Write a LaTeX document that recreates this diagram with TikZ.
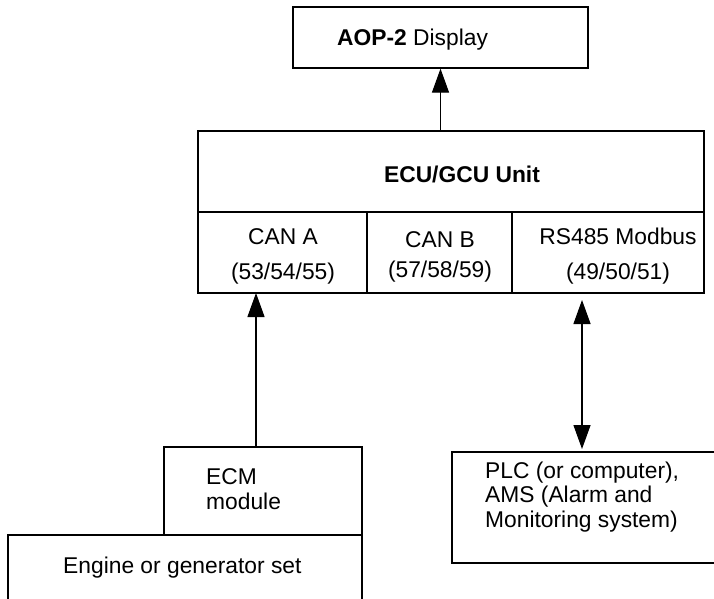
\documentclass[tikz,border=0pt]{standalone}
\usepackage{fontspec}
\setmainfont{Liberation Sans}
\usetikzlibrary{arrows.meta}
\begin{document}
\begin{tikzpicture}[x=1pt,y=-1pt,
  box/.style={draw,line width=1.3pt,inner sep=0pt,minimum width=#1},
  lbl/.style={inner sep=0pt,font=\fontsize{22.8}{24.5}\selectfont},
  arr/.style={line width=1.3pt,-{Triangle[length=24pt,width=17pt]}},
  darr/.style={line width=1.3pt,{Triangle[length=24pt,width=17pt]}-{Triangle[length=24pt,width=17pt]}}]
\useasboundingbox (0,0) rectangle (714,598);
\clip (0,0) rectangle (714,598);
\fill[white] (0,0) rectangle (714,598);
% boxes
\node[box=295pt,minimum height=61pt] (aop) at (440.5,37.5) {};
\node[box=506pt,minimum height=162pt] (ecu) at (451,212) {};
\node[box=198pt,minimum height=88pt] (ecm) at (263,491) {};
\node[box=354pt,minimum height=90pt] (eng) at (185,580) {};
\node[box=280pt,minimum height=111pt] (plc) at (592,507.5) {};
% ECU dividers
\coordinate (dl) at (198,212);
\coordinate (dr) at (704,212);
\coordinate (v1) at (367,212);
\coordinate (v2) at (512,212);
\draw[line width=1.3pt] (dl) -- (dr);
\draw[line width=1.3pt] (v1) -- (v1 |- ecu.south);
\draw[line width=1.3pt] (v2) -- (v2 |- ecu.south);
% texts
\node[lbl,anchor=base west] (aoptxt) at (337,45) {\textbf{AOP-2} Display};
\node[lbl] (ecutxt) at (462,174) {\textbf{ECU/GCU Unit}};
\node[lbl] (cana) at (283,237) {CAN A};
\node[lbl] (canan) at (283,274) {(53/54/55)};
\node[lbl] (canb) at (440,240) {CAN B};
\node[lbl] (canbn) at (440,272) {(57/58/59)};
\node[lbl] (rs) at (618,236) {RS485 Modbus};
\node[lbl] (rsn) at (618,274) {(49/50/51)};
\node[lbl,anchor=base west,align=left] (ecmtxt) at (206,509) {ECM\\module};
\node[lbl,anchor=base west] (engtxt) at (63,573) {Engine or generator set};
\node[lbl,anchor=base west,align=left] (plctxt) at (485,527) {PLC (or computer),\\AMS (Alarm and\\Monitoring system)};
% connectors
\coordinate (ca) at (256,293);
\coordinate (rst) at (582,300);
\coordinate (rsb) at (582,449);
\draw[arr] (aop.south |- ecu.north) -- (aop.south);
\draw[arr] (ecm.north -| ca) -- (ca);
\draw[darr] (rst) -- (rsb);
\end{tikzpicture}
\end{document}
